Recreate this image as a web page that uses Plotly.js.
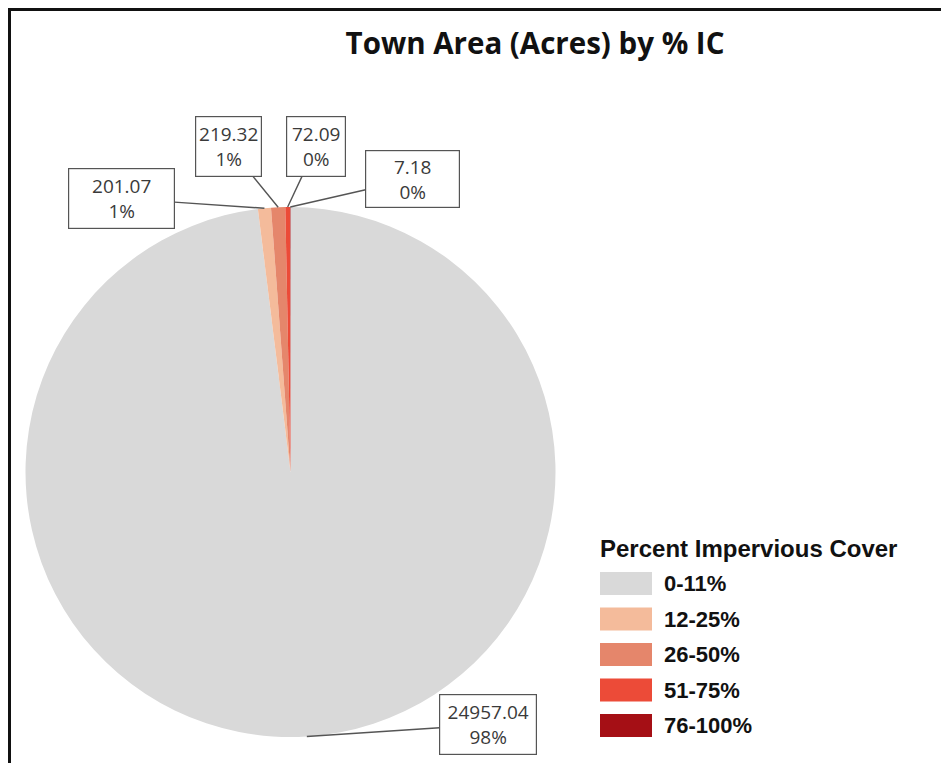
<!DOCTYPE html>
<html><head><meta charset="utf-8">
<script src="https://cdn.plot.ly/plotly-3.0.1.min.js"></script>
<style>
html,body{margin:0;padding:0;background:#fff;overflow:hidden;}
#chart{width:941px;height:763px;position:absolute;left:0;top:0;}
#frame{position:absolute;left:8px;top:8px;width:940px;height:760px;border-top:3px solid #111;border-left:3px solid #111;pointer-events:none;z-index:10;}
</style></head><body>
<div id="chart"></div><div id="frame"></div>
<script>
// ---- data ----
const categories = ['0-11%', '12-25%', '26-50%', '51-75%', '76-100%'];
const acres = [24957.04, 201.07, 219.32, 72.09, 7.18];
const sliceColors = ['#d9d9d9', '#f4bb9b', '#e5866b', '#ec4b38', '#a50f15'];
const chartTitle = 'Town Area (Acres) by % IC';
const legendTitle = 'Percent Impervious Cover';

// ---- layout constants ----
const W = 941, H = 763;
const PIE = {cx: 290.5, cy: 472, r: 265};
// callout boxes (pixel centre / size), one per category
const labelBoxes = [
  {cx: 488,   cy: 724.5, w: 98,  h: 61},
  {cx: 121.5, cy: 198.5, w: 107, h: 61},
  {cx: 228.5, cy: 146.5, w: 67,  h: 61},
  {cx: 316,   cy: 146.5, w: 60,  h: 61},
  {cx: 412.5, cy: 179,   w: 95,  h: 58}
];
const LEG = {x: 600, swW: 52, swH: 23, textX: 662, titleY: 548, firstY: 583.5, step: 35.5};

const total = acres.reduce((a, b) => a + b, 0);
const annotations = [];
const shapes = [];

// data-label callouts, anchored at each slice's mid-angle on the rim
let cum = 0;
acres.forEach((v, i) => {
  const mid = (cum + v / 2) / total;
  cum += v;
  const ang = mid * 2 * Math.PI; // clockwise from 12 o'clock
  const tx = PIE.cx + PIE.r * Math.sin(ang);
  const ty = PIE.cy - PIE.r * Math.cos(ang);
  const b = labelBoxes[i];
  const pct = Math.round(v / total * 100);
  annotations.push({
    xref: 'paper', yref: 'paper', x: tx / W, y: 1 - ty / H,
    text: v.toFixed(2) + '<br>' + pct + '%',
    showarrow: true, arrowhead: 0, arrowwidth: 1.4, arrowcolor: '#555555', standoff: 0,
    ax: b.cx - tx, ay: b.cy - ty,
    width: b.w - 2, height: b.h - 2,
    bordercolor: '#555555', borderwidth: 1.2, borderpad: 0, bgcolor: '#ffffff',
    align: 'center', valign: 'middle',
    font: {family: 'Open Sans', size: 19, color: '#3a3a3a'}
  });
});

// legend (title + swatches + labels)
annotations.push({
  xref: 'paper', yref: 'paper', x: (LEG.x - 2) / W, y: 1 - LEG.titleY / H,
  xanchor: 'left', yanchor: 'middle', showarrow: false, text: legendTitle,
  font: {family: 'Liberation Sans, Arial', size: 24, weight: 'bold', color: '#111'}
});
categories.forEach((c, i) => {
  const yc = LEG.firstY + i * LEG.step;
  shapes.push({
    type: 'rect', xref: 'paper', yref: 'paper',
    x0: LEG.x / W, x1: (LEG.x + LEG.swW) / W,
    y0: 1 - (yc + LEG.swH / 2) / H, y1: 1 - (yc - LEG.swH / 2) / H,
    fillcolor: sliceColors[i], line: {width: 0}
  });
  annotations.push({
    xref: 'paper', yref: 'paper', x: LEG.textX / W, y: 1 - yc / H,
    xanchor: 'left', yanchor: 'middle', showarrow: false, text: c,
    font: {family: 'Liberation Sans, Arial', size: 22, weight: 'bold', color: '#111'}
  });
});

const trace = {
  type: 'pie', values: acres, labels: categories,
  marker: {colors: sliceColors, line: {width: 0}},
  sort: false, direction: 'clockwise', rotation: 0,
  textinfo: 'none', showlegend: false,
  domain: {x: [(PIE.cx - PIE.r) / W, (PIE.cx + PIE.r) / W],
           y: [(H - PIE.cy - PIE.r) / H, (H - PIE.cy + PIE.r) / H]}
};

const layout = {
  width: W, height: H,
  margin: {l: 0, r: 0, t: 0, b: 0},
  paper_bgcolor: '#ffffff',
  showlegend: false,
  title: {
    text: chartTitle, x: 535 / W, xanchor: 'center', y: 1 - 44 / H, yanchor: 'middle',
    font: {family: 'Open Sans', size: 29.5, weight: 'bold', color: '#111'}
  },
  annotations: annotations,
  shapes: shapes
};

Plotly.newPlot('chart', [trace], layout, {displayModeBar: false, staticPlot: true});
</script>
</body></html>
